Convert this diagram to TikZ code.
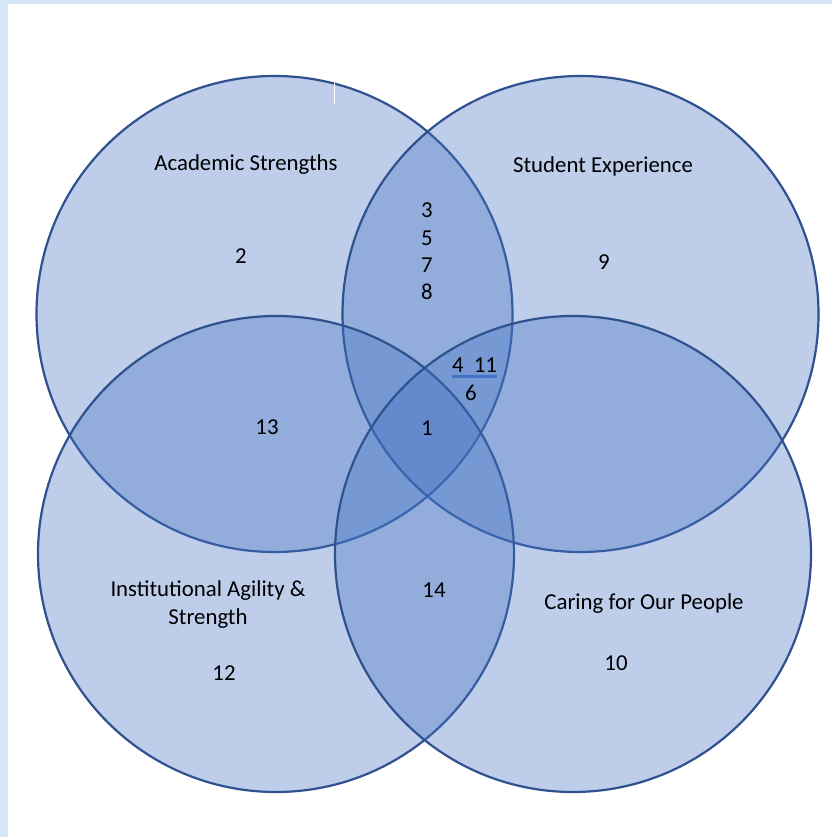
\documentclass[tikz,border=0pt]{standalone}
\usepackage{fontspec}
\setmainfont{Carlito}
\usetikzlibrary{positioning}
\definecolor{vennfill}{RGB}{68,114,196}
\definecolor{vennline}{RGB}{47,82,143}
\definecolor{pageedge}{RGB}{214,230,245}

\begin{document}
\begin{tikzpicture}[x=1pt,y=-1pt,
    venn/.style={draw=vennline,line width=2.2pt,fill=vennfill,fill opacity=0.35},
    lbl/.style={font=\fontsize{22.8}{28}\selectfont,inner sep=0pt,anchor=base,align=center}]
    % Page and margins
    \useasboundingbox (0,0) rectangle (832,837);
    \fill[pageedge] (0,0) rectangle (832,837);
    \fill[white] (8,4) rectangle (832,837);

    % Circles
    \draw[venn] (274.5,314) circle (238);
    \draw[venn] (580.5,314) circle (238);
    \draw[venn] (276,554) circle (238);
    \draw[venn] (573,554) circle (238);
    \draw[white,line width=0.8pt] (334,83) -- (334,104);

    % Set names
    \node[lbl] (acad) at (246,171) {Academic Strengths};
    \node[lbl] (stud) at (603,172) {Student Experience};
    \node[lbl] (inst) at (208,624) {Institutional Agility \&\\Strength};
    \node[lbl] (care) at (644,609) {Caring for Our People};

    % Items
    \node[lbl] (n2) at (241,263) {2};
    \node[lbl] (n9) at (604,269) {9};
    \foreach \n/\y in {3/217,5/245,7/272,8/299} {
        \node[lbl] (n\n) at (427,\y) {\n};
    }
    \node[lbl] (n4) at (474.5,372) {4~~11};
    \draw[vennfill,line width=3pt] (n4.south west) ++(0,4) -- ++(45,0);
    \node[lbl] (n6) at (471,400) {6};
    \node[lbl] (n13) at (267,434) {13};
    \node[lbl] (n1) at (427,435) {1};
    \node[lbl] (n14) at (434,597) {14};
    \node[lbl] (n12) at (224,680) {12};
    \node[lbl] (n10) at (616,670) {10};
\end{tikzpicture}
\end{document}
